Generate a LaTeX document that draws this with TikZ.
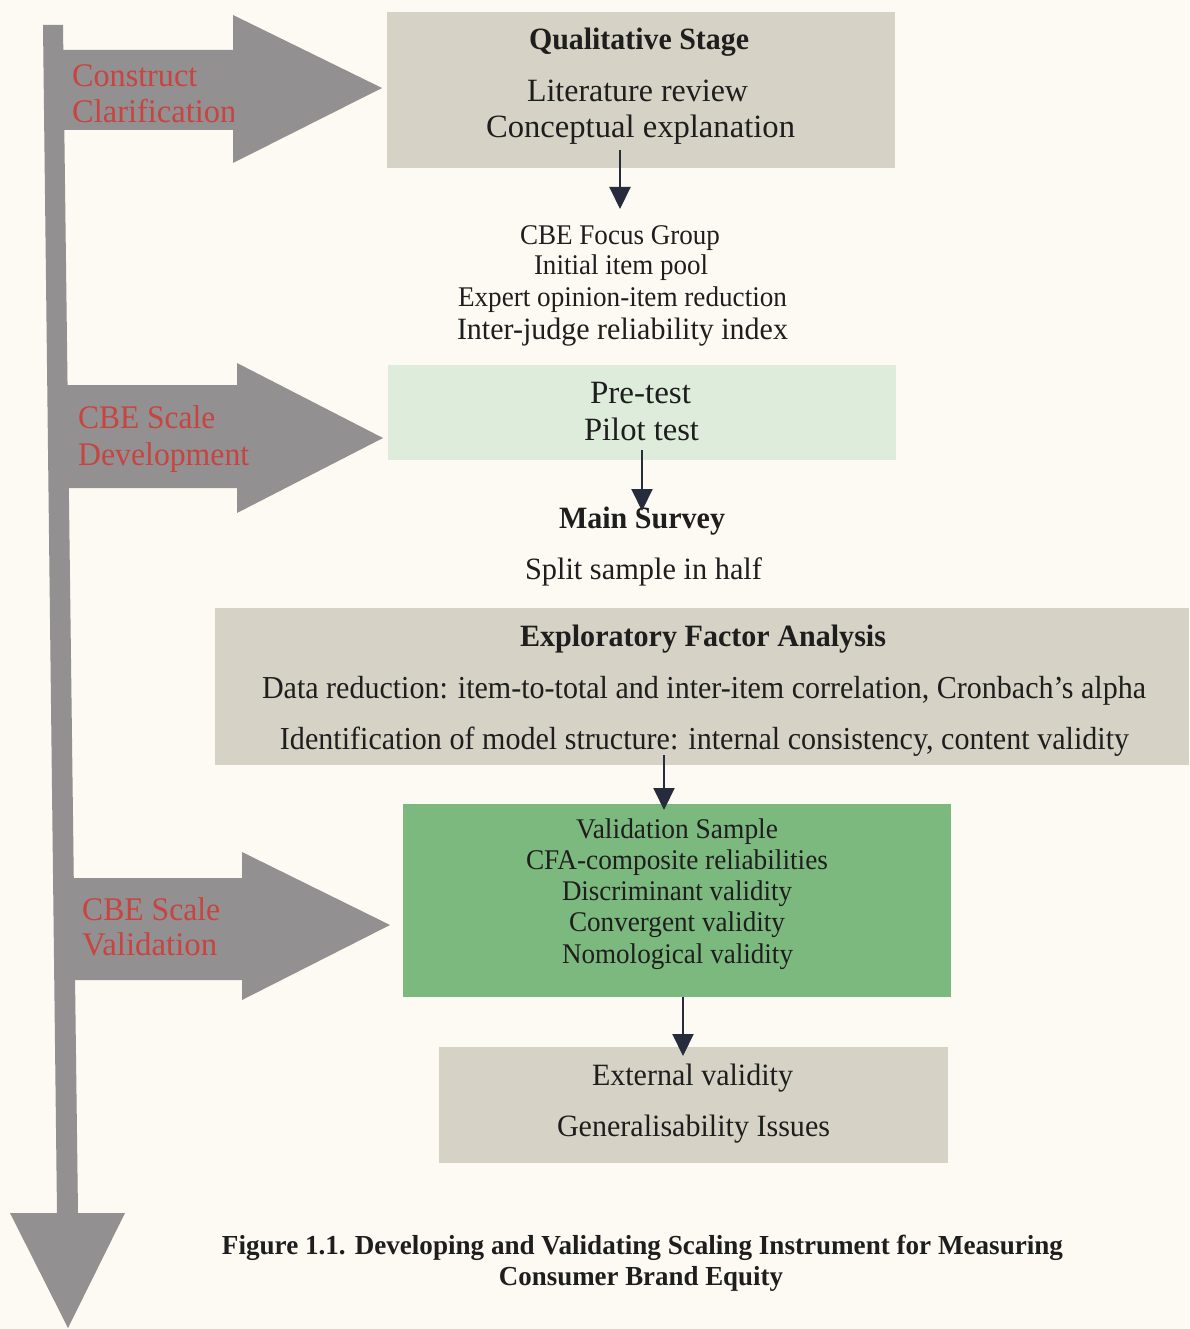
\documentclass[tikz,border=0pt]{standalone}
\usepackage{fontspec}
\setmainfont{Liberation Serif}
\usepackage{graphicx}
\usetikzlibrary{arrows.meta}

\definecolor{paper}{RGB}{252,250,243}
\definecolor{stagegrey}{RGB}{146,144,145}
\definecolor{labelred}{RGB}{200,68,64}
\definecolor{beige}{RGB}{214,210,197}
\definecolor{palegreen}{RGB}{222,237,219}
\definecolor{midgreen}{RGB}{124,185,126}
\definecolor{ink}{RGB}{30,30,30}
\definecolor{navy}{RGB}{38,44,60}

% set a line of text to a fixed width, keeping its height
\newcommand\fitw[2]{\resizebox{#1pt}{\height}{#2}}

\begin{document}
\begin{tikzpicture}[x=1pt,y=-1pt,
  box/.style={rectangle,draw=none,inner sep=0pt},
  txt/.style={text=ink,inner sep=0pt,anchor=base},
  s26/.style={font=\fontsize{28.5}{33}\selectfont},
  s28/.style={font=\fontsize{31}{36}\selectfont},
  s30/.style={font=\fontsize{32.5}{38}\selectfont},
  efa/.style={font=\fontsize{32}{37}\selectfont},
  captiontext/.style={font=\fontsize{27.5}{32}\selectfont\bfseries},
  lbl/.style={text=labelred,inner sep=0pt,anchor=base west,font=\fontsize{33}{38}\selectfont},
  conn/.style={draw=navy,line width=2pt,-{Triangle[width=21pt,length=22pt]}},
]
\fill[paper] (0,0) rectangle (1189,1329);
\useasboundingbox (0,0) rectangle (1189,1329);

% ---- stage arrows on the left ----
\fill[stagegrey] (43,25) -- (63,25) -- (78,1213) -- (125,1213) -- (68,1328)
  -- (10,1213) -- (57,1213) -- cycle;
\fill[stagegrey] (50,50) -- (233,50) -- (233,15) -- (382,88) -- (233,163)
  -- (233,130) -- (50,130) -- cycle;
\fill[stagegrey] (55,385) -- (237,385) -- (237,363) -- (383,438) -- (237,513)
  -- (237,488) -- (55,488) -- cycle;
\fill[stagegrey] (60,878) -- (242,878) -- (242,852) -- (390,925) -- (242,1000)
  -- (242,980) -- (60,980) -- cycle;

\begin{scope}
  \clip (50,50) rectangle (233,130);
  \node[lbl] (cc1) at (72,87)  {\fitw{125}{Construct}};
  \node[lbl] (cc2) at (72,123) {\fitw{164}{Clarification}};
\end{scope}
\node[lbl] (sd1) at (78,428) {\fitw{137}{CBE Scale}};
\node[lbl] (sd2) at (78,465) {\fitw{171}{Development}};
\node[lbl] (sv1) at (82,920) {\fitw{138}{CBE Scale}};
\node[lbl] (sv2) at (82,955) {\fitw{135}{Validation}};

% ---- boxes ----
\node[box,fill=beige,minimum width=508pt,minimum height=156pt] (qbox) at (641,90) {};
\node[box,fill=palegreen,minimum width=508pt,minimum height=95pt] (pbox) at (642,412.5) {};
\node[box,fill=beige,minimum width=974pt,minimum height=157pt] (ebox) at (702,686.5) {};
\node[box,fill=midgreen,minimum width=548pt,minimum height=193pt] (vbox) at (677,900.5) {};
\node[box,fill=beige,minimum width=509pt,minimum height=116pt] (gbox) at (693.5,1105) {};

% ---- qualitative stage ----
\node[txt,s28] (q1) at (639,50)  {\fitw{220}{\bfseries Qualitative Stage}};
\node[txt,s30] (q2) at (637.5,102) {\fitw{221}{Literature review}};
\node[txt,s30] (q3) at (640.5,138) {\fitw{309}{Conceptual explanation}};

\node[txt,s26] (f1) at (620,245)  {\fitw{200}{CBE Focus Group}};
\node[txt,s26] (f2) at (621,275)  {\fitw{174}{Initial item pool}};
\node[txt,s26] (f3) at (622.5,306) {\fitw{329}{Expert opinion-item reduction}};
\node[txt,s28] (f4) at (622.5,339) {\fitw{331}{Inter-judge reliability index}};

% ---- pre-test ----
\node[txt,s30] (p1) at (640.5,403) {\fitw{101}{Pre-test}};
\node[txt,s30] (p2) at (641.5,440) {\fitw{115}{Pilot test}};

\node[txt,s28] (m1) at (642,528)   {\fitw{166}{\bfseries Main Survey}};
\node[txt,s28] (m2) at (643.5,579) {\fitw{237}{Split sample in half}};

% ---- exploratory factor analysis ----
\node[txt,s28] (e1) at (703,646)   {\fitw{366}{\bfseries Exploratory Factor Analysis}};
\node[txt,efa] (e2) at (704,698)   {\fitw{884}{Data reduction: item-to-total and inter-item correlation, Cronbach’s alpha}};
\node[txt,efa] (e3) at (704.5,749) {\fitw{849}{Identification of model structure: internal consistency, content validity}};

% ---- validation ----
\node[txt,s26] (v1) at (677,838)   {\fitw{202}{Validation Sample}};
\node[txt,s26] (v2) at (677,869)   {\fitw{302}{CFA-composite reliabilities}};
\node[txt,s26] (v3) at (677,900)   {\fitw{230}{Discriminant validity}};
\node[txt,s26] (v4) at (677,931)   {\fitw{216}{Convergent validity}};
\node[txt,s26] (v5) at (677.5,963) {\fitw{231}{Nomological validity}};

\node[txt,s28] (g1) at (692.5,1085) {\fitw{201}{External validity}};
\node[txt,s28] (g2) at (693.5,1136) {\fitw{273}{Generalisability Issues}};

% ---- caption ----
\node[txt,captiontext] (c1) at (642.5,1254) {\fitw{841}{Figure 1.1. Developing and Validating Scaling Instrument for Measuring}};
\node[txt,captiontext] (c2) at (641,1285)   {\fitw{284}{Consumer Brand Equity}};

% ---- connectors ----
\coordinate (a1s) at (620,150);  \coordinate (a1e) at (620,209);
\coordinate (a2s) at (642,450);  \coordinate (a2e) at (642,511);
\coordinate (a3s) at (664,755);  \coordinate (a3e) at (664,810);
\coordinate (a4s) at (683,997);  \coordinate (a4e) at (683,1056);
\draw[conn] (a1s) -- (a1e);
\draw[conn] (a2s) -- (a2e);
\draw[conn] (a3s) -- (a3e);
\draw[conn] (a4s) -- (a4e);
\end{tikzpicture}
\end{document}
